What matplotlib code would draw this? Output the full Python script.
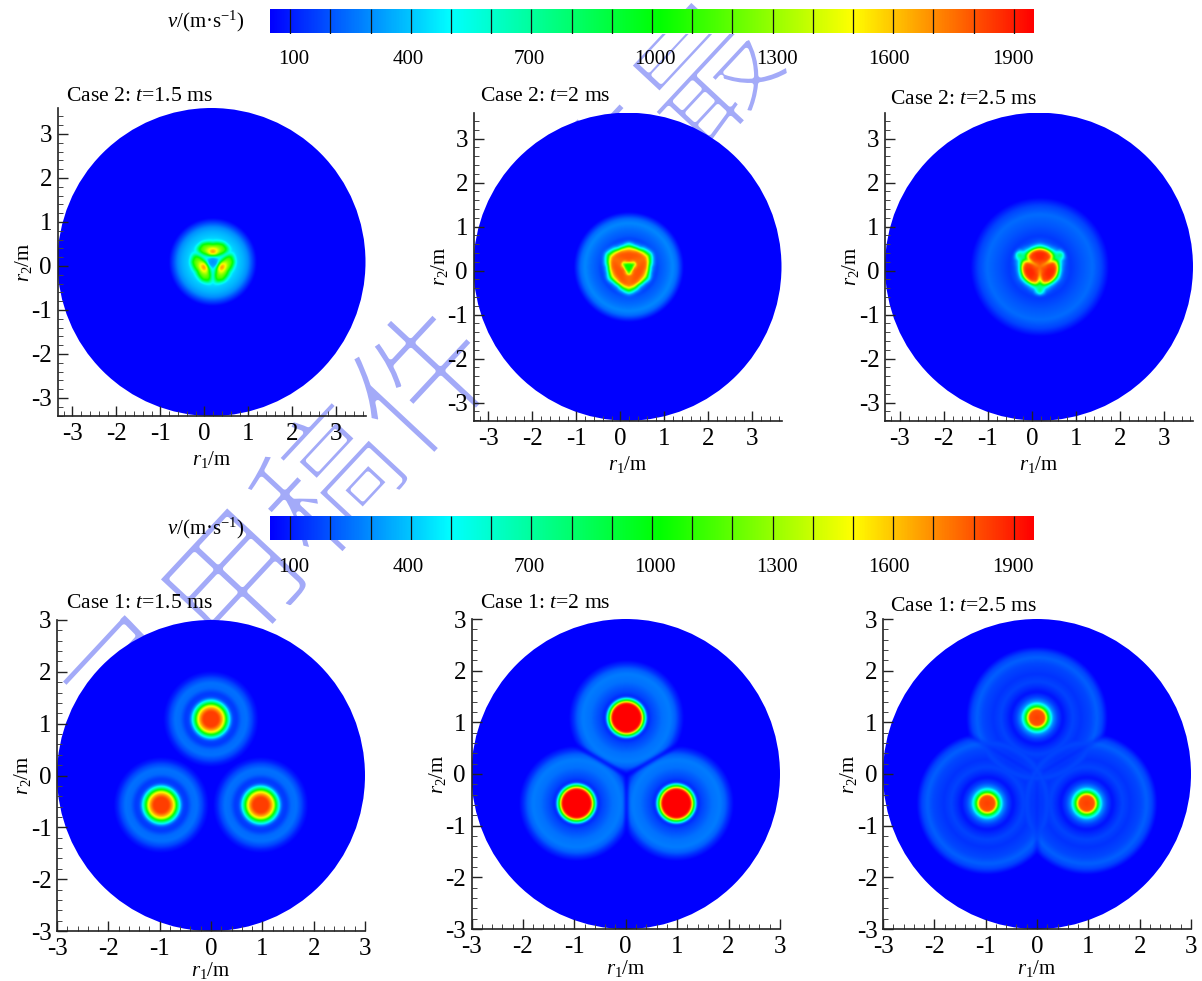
import numpy as np
import matplotlib
matplotlib.use("Agg")
import matplotlib.pyplot as plt
import matplotlib.patheffects as pe
from matplotlib.colors import LinearSegmentedColormap
from matplotlib.patches import Circle
from matplotlib.ticker import MultipleLocator

plt.rcParams['font.family'] = ['Liberation Serif', 'DejaVu Sans']
plt.rcParams['mathtext.fontset'] = 'custom'
plt.rcParams['mathtext.rm'] = 'Liberation Serif'
plt.rcParams['mathtext.it'] = 'Liberation Serif:italic'
plt.rcParams['axes.unicode_minus'] = False

# ---- colour scale ----
cbar_min, cbar_max = 50, 1950
cbar_ticks = list(range(100, 2000, 100))
cbar_labels = [100, 400, 700, 1000, 1300, 1600, 1900]
cmap_values = [50, 498, 1020, 1500, 1950]
cmap_colors = ['#0000ff', '#00ffff', '#00ff00', '#ffff00', '#ff0000']

# ---- Case 1: blast centres and radial speed profiles ----
c1_x = [0.0, -0.97, 0.97]
c1_y = [1.09, -0.57, -0.57]
c1_r_15 = [0, .15, .2, .25, .28, .31, .35, .38, .43, .5, .6, .7, .8, .85, .93, 4]
c1_v_15 = [1840, 1840, 1700, 1500, 1200, 900, 600, 350, 170, 150, 240, 250, 170, 110, 50, 50]
c1_r_20 = [0, .27, .3, .32, .34, .37, .39, .42, .5, .7, .85, .95, 1.03, 1.12, 4]
c1_v_20 = [1950, 1950, 1700, 1300, 1000, 600, 300, 120, 170, 250, 270, 220, 130, 50, 50]
c1_r_25 = [0, .15, .18, .2, .23, .27, .32, .4, .5, .6, .7, .85, 1.05, 1.17, 1.27, 1.38, 4]
c1_v_25 = [1840, 1800, 1500, 1200, 900, 550, 300, 170, 80, 130, 170, 140, 175, 220, 170, 50, 50]

# ---- Case 2: speed tables, radius by angle away from a lobe axis ----
c2_x, c2_y = 0.18, 0.09
c2_phi = [0, 15, 30, 45, 60]
c2_r_15 = [0, .1, .13, .2, .25, .3, .35, .4, .45, .5, .55, .7, .8, .9, 1.0, 4]
c2_t_15 = [[300, 300, 300, 300, 300], [350, 350, 350, 350, 350],
           [900, 800, 600, 450, 420], [1650, 1550, 1200, 750, 480],
           [1700, 1600, 1350, 950, 500], [1550, 1500, 1350, 1100, 520],
           [1300, 1300, 1250, 1150, 520], [1050, 1150, 1200, 1100, 520],
           [700, 900, 1050, 900, 480], [460, 520, 680, 580, 440],
           [420, 420, 420, 420, 420], [360, 360, 360, 360, 360],
           [300, 300, 300, 300, 300], [170, 170, 170, 170, 170],
           [50, 50, 50, 50, 50], [50, 50, 50, 50, 50]]
c2_r_20 = [0, .08, .12, .2, .3, .35, .4, .45, .5, .55, .6, .65, .7, .85, 1.0, 1.1, 1.25, 4]
c2_t_20 = [[1000, 1000, 1000, 1000, 1000], [1100, 1100, 1050, 1000, 1000],
           [1750, 1700, 1600, 1350, 1050], [1800, 1800, 1780, 1750, 1750],
           [1800, 1800, 1800, 1780, 1750], [1750, 1750, 1780, 1780, 1750],
           [1600, 1600, 1700, 1750, 1750], [1300, 1150, 1150, 1500, 1650],
           [700, 500, 500, 1000, 1300], [400, 260, 280, 500, 900],
           [200, 180, 200, 280, 450], [170, 170, 170, 190, 250],
           [200, 200, 200, 200, 200], [240, 240, 240, 240, 240],
           [290, 290, 290, 290, 290], [240, 240, 240, 240, 240],
           [50, 50, 50, 50, 50], [50, 50, 50, 50, 50]]
c2_r_25 = [0, .1, .2, .3, .35, .4, .45, .5, .55, .6, .65, .7, .95, 1.2, 1.4, 1.58, 4]
c2_t_25 = [[1750, 1750, 1750, 1750, 1750], [1820, 1800, 1780, 1750, 1700],
           [1880, 1880, 1850, 1820, 1600], [1880, 1880, 1850, 1820, 1400],
           [1850, 1850, 1820, 1700, 1100], [1650, 1600, 1550, 1300, 800],
           [900, 800, 700, 750, 700], [450, 380, 350, 450, 800],
           [250, 230, 240, 300, 800], [200, 180, 180, 220, 550],
           [170, 170, 160, 170, 250], [150, 150, 150, 150, 150],
           [200, 200, 200, 200, 200], [240, 240, 240, 240, 240],
           [170, 170, 170, 170, 170], [50, 50, 50, 50, 50], [50, 50, 50, 50, 50]]

top_titles = ['Case 2: $t$=1.5 ms', 'Case 2: $t$=2 ms', 'Case 2: $t$=2.5 ms']
bot_titles = ['Case 1: $t$=1.5 ms', 'Case 1: $t$=2 ms', 'Case 1: $t$=2.5 ms']
ticks = [-3, -2, -1, 0, 1, 2, 3]
watermark = '录用稿件，非最'

W, H = 1202, 981
fig = plt.figure(figsize=(W / 100, H / 100), dpi=100, facecolor='white')
cmap = LinearSegmentedColormap.from_list(
    'rainbow_v',
    [((v - cbar_min) / (cbar_max - cbar_min), c) for v, c in zip(cmap_values, cmap_colors)], N=512)


def px_axes(l, t, r, b):
    ax = fig.add_axes([l / W, 1 - b / H, (r - l) / W, (b - t) / H])
    ax.patch.set_visible(False)
    return ax


def blur(a, n=2):
    k = np.ones(2 * n + 1) / (2 * n + 1)
    a = np.apply_along_axis(lambda s: np.convolve(np.pad(s, n, mode='edge'), k, 'valid'), 0, a)
    a = np.apply_along_axis(lambda s: np.convolve(np.pad(s, n, mode='edge'), k, 'valid'), 1, a)
    return a


def field_case2(X, Y, rs, table):
    dx, dy = X - c2_x, Y - c2_y
    r = np.hypot(dx, dy)
    phi = (np.degrees(np.arctan2(dy, dx)) - 90) % 120
    phi = np.minimum(phi, 120 - phi)
    table = np.array(table, float)
    cols = np.stack([np.interp(r, rs, table[:, j]) for j in range(len(c2_phi))])
    f = np.clip(phi / 15.0, 0, len(c2_phi) - 1 - 1e-6)
    i = f.astype(int)
    w = f - i
    rows, colz = np.indices(r.shape)
    return blur(cols[i, rows, colz] * (1 - w) + cols[i + 1, rows, colz] * w)


def field_case1(X, Y, rs, vs, gap_min, cross):
    d = np.stack([np.hypot(X - x, Y - y) for x, y in zip(c1_x, c1_y)])
    p = np.interp(d, rs, vs)
    ds = np.sort(d, axis=0)
    near = np.argmin(d, axis=0)
    rows, colz = np.indices(X.shape)
    v = p[near, rows, colz]
    gap = gap_min + (1 - gap_min) * np.clip((ds[1] - ds[0]) / 0.14, 0, 1)
    v = 50 + (v - 50) * gap
    v = np.maximum(v, cross * p.max(axis=0))
    return blur(v)


def style(ax, xlim, ylim, pad, lpad):
    ax.set_xlim(*xlim)
    ax.set_ylim(*ylim)
    for s in ('top', 'right'):
        ax.spines[s].set_visible(False)
    for s in ('left', 'bottom'):
        ax.spines[s].set_linewidth(1.2)
        ax.spines[s].set_color('#222222')
    ax.set_xticks(ticks)
    ax.set_yticks(ticks)
    ax.set_xticklabels([str(t) for t in ticks])
    ax.set_yticklabels([str(t) for t in ticks])
    ax.xaxis.set_minor_locator(MultipleLocator(0.2))
    ax.yaxis.set_minor_locator(MultipleLocator(0.2))
    ax.tick_params(which='major', direction='in', length=7, width=1.0, labelsize=18, color='#222222')
    ax.tick_params(which='minor', direction='in', length=3.5, width=0.7, color='#444444')
    ax.tick_params(axis='x', which='major', pad=pad)
    ax.tick_params(axis='y', which='major', pad=4)
    ax.set_xlabel('$r_1$/m', fontsize=15, labelpad=lpad)
    ax.set_ylabel('$r_2$/m', fontsize=15, labelpad=-2)


def draw(ax, Z, ext, circ):
    im = ax.imshow(Z, extent=ext, origin='lower', cmap=cmap, vmin=cbar_min, vmax=cbar_max,
                   aspect='auto', interpolation='bilinear', zorder=0.5)
    im.set_clip_path(Circle(circ[:2], circ[2], transform=ax.transData))


# watermark behind the panels; the white edge thins its strokes
wm = fig.text(98 / W, 1 - 743 / H, watermark, fontsize=100, rotation=47, rotation_mode='anchor',
              ha='left', va='center', color='#a3aaf8', family=['Noto Sans CJK SC', 'DejaVu Sans'],
              zorder=-5)
wm.set_path_effects([pe.Stroke(linewidth=3.5, foreground='white')])

# top row: Case 2
top_boxes = [(57.5, 108, 365.5, 416), (473.5, 112.7, 781.5, 420.7), (885, 112.7, 1193, 420.7)]
top_tables = [(c2_r_15, c2_t_15), (c2_r_20, c2_t_20), (c2_r_25, c2_t_25)]
top_text = [(65.7, 101), (480, 101), (890, 103.5)]
xs = np.linspace(-3.5, 3.9, 640)
ys = np.linspace(-3.6, 3.8, 640)
X, Y = np.meshgrid(xs, ys)
for box, (rs, tab), title, tp in zip(top_boxes, top_tables, top_titles, top_text):
    ax = px_axes(*box)
    style(ax, (-3.34, 3.66), (-3.41, 3.59), 5, 3)
    draw(ax, field_case2(X, Y, rs, tab), (xs[0], xs[-1], ys[0], ys[-1]), (c2_x - 0.02, c2_y, 3.5))
    fig.text(tp[0] / W, 1 - tp[1] / H, title, fontsize=15.6, ha='left', va='baseline')

# bottom row: Case 1
bot_boxes = [(57, 620, 365, 931), (471.5, 619, 780, 929), (883, 619, 1191, 929)]
bot_profiles = [(c1_r_15, c1_v_15, 1.0, 1.0), (c1_r_20, c1_v_20, 0.25, 0.0), (c1_r_25, c1_v_25, 0.7, 0.8)]
bot_text = [(65.7, 608), (480, 608), (890, 611)]
xs2 = np.linspace(-3.05, 3.05, 640)
X2, Y2 = np.meshgrid(xs2, xs2)
for box, (rs, vs, gm, cr), title, tp in zip(bot_boxes, bot_profiles, bot_titles, bot_text):
    ax = px_axes(*box)
    style(ax, (-3, 3), (-3, 3), 5, 0)
    draw(ax, field_case1(X2, Y2, rs, vs, gm, cr), (xs2[0], xs2[-1], xs2[0], xs2[-1]), (0, 0, 3))
    fig.text(tp[0] / W, 1 - tp[1] / H, title, fontsize=15.6, ha='left', va='baseline')

# colour bars
ramp = np.linspace(cbar_min, cbar_max, 800)[None, :]
label_px = [294, 408, 529, 655, 777, 889, 1013]
for top, bottom, lab_y in [(9, 33.5, 60), (516, 540, 567)]:
    cax = px_axes(270, top, 1034, bottom)
    cax.patch.set_visible(True)
    cax.set_zorder(2)
    cax.imshow(ramp, extent=(cbar_min, cbar_max, 0, 1), aspect='auto', cmap=cmap,
               vmin=cbar_min, vmax=cbar_max)
    cax.vlines(cbar_ticks, 0, 1, color='#111111', lw=0.9)
    cax.set_xlim(cbar_min, cbar_max)
    cax.set_ylim(0, 1)
    cax.set_xticks([])
    cax.set_yticks([])
    for s in cax.spines.values():
        s.set_visible(False)
    for v, lx in zip(cbar_labels, label_px):
        fig.text(lx / W, 1 - lab_y / H, str(v), fontsize=15, ha='center', va='center')
    fig.text(245 / W, 1 - (top + 12) / H, '$v$/(m·s$^{-1}$)', fontsize=15, ha='right', va='center')

fig.savefig('out.png', dpi=100)
